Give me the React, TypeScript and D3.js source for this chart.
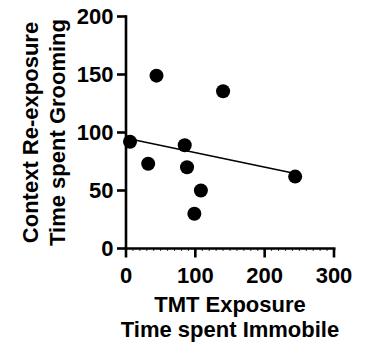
import React from "react";
import * as d3 from "d3";

// Immobility during TMT exposure vs. grooming on context re-exposure (seconds)
const immobile = [5.8, 44, 32, 140, 84.7, 88, 108, 98.6, 244];
const grooming = [92, 149, 73, 135.6, 89, 70, 50, 30, 62];

const xTicks = [0, 100, 200, 300];
const yTicks = [0, 50, 100, 150, 200];
const xMinorTicks = d3.range(0, 301, 10);

const xTitle = ["TMT Exposure", "Time spent Immobile"];
const yTitle = ["Context Re-exposure", "Time spent Grooming"];

const W = 365;
const H = 351;
const FONT = "'Liberation Sans', Arial, Helvetica, sans-serif";

export default function App() {
  const x = d3.scaleLinear().domain([0, 300]).range([126, 334]);
  const y = d3.scaleLinear().domain([0, 200]).range([248.5, 16.5]);

  // least-squares fit
  const mx = d3.mean(immobile)!;
  const my = d3.mean(grooming)!;
  let sxy = 0;
  let sxx = 0;
  immobile.forEach((xi, i) => {
    sxy += (xi - mx) * (grooming[i] - my);
    sxx += (xi - mx) * (xi - mx);
  });
  const slope = sxy / sxx;
  const intercept = my - slope * mx;
  const [x0, x1] = d3.extent(immobile) as [number, number];
  const fit = d3.line<number>()
    .x((d) => x(d))
    .y((d) => y(intercept + slope * d));

  const axisY = y(0);
  const axisX = x(0);
  const tickLen = 9;

  return (
    <svg
      width={W}
      height={H}
      style={{ position: "absolute", left: 0, top: 0, background: "#fff" }}
      fontFamily={FONT}
      fontWeight="bold"
    >
      {/* x axis */}
      <g>
        {xMinorTicks.map((t) => (
          <line key={"m" + t} x1={x(t)} x2={x(t)} y1={axisY} y2={axisY + 2.5} stroke="#000" strokeWidth={0.8} />
        ))}
        <line x1={x(0) - 1.5} x2={x(300) + 1.5} y1={axisY} y2={axisY} stroke="#000" strokeWidth={2.6} />
        {xTicks.map((t) => (
          <g key={t}>
            <line x1={x(t)} x2={x(t)} y1={axisY} y2={axisY + tickLen} stroke="#000" strokeWidth={2.6} />
            <text x={x(t)} y={283} textAnchor="middle" fontSize={22}>{t}</text>
          </g>
        ))}
      </g>
      {/* y axis */}
      <g>
        <line x1={axisX} x2={axisX} y1={y(200) - 1.3} y2={axisY + 1.3} stroke="#000" strokeWidth={2.6} />
        {yTicks.map((t) => (
          <g key={t}>
            <line x1={axisX - tickLen} x2={axisX} y1={y(t)} y2={y(t)} stroke="#000" strokeWidth={2.6} />
            <text x={113.5} y={y(t)} dy="0.36em" textAnchor="end" fontSize={22}>{t}</text>
          </g>
        ))}
      </g>
      {/* regression line */}
      <path d={fit([x0, x1]) ?? ""} fill="none" stroke="#000" strokeWidth={1.5} />
      {/* points */}
      {immobile.map((xi, i) => (
        <circle key={i} cx={x(xi)} cy={y(grooming[i])} r={7} fill="#000" />
      ))}
      {/* axis titles */}
      {xTitle.map((s, i) => (
        <text key={s} x={(x(0) + x(300)) / 2} y={312 + i * 25} textAnchor="middle" fontSize={22}>{s}</text>
      ))}
      {yTitle.map((s, i) => (
        <text
          key={s}
          transform={`translate(${38 + i * 27},${(y(0) + y(200)) / 2}) rotate(-90)`}
          textAnchor="middle"
          fontSize={22}
        >
          {s}
        </text>
      ))}
    </svg>
  );
}
